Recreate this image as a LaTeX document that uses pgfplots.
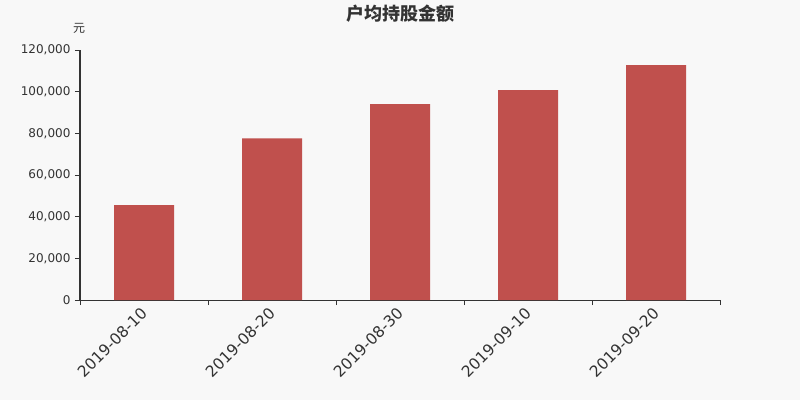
\documentclass[border=0pt]{standalone}
\usepackage{pgfplots}
\pgfplotsset{compat=1.18}
\usepackage{fontspec}
\setmainfont{DejaVu Sans}
\newfontfamily\cjk{Noto Sans CJK SC}
\definecolor{bg}{HTML}{F8F8F8}
\definecolor{barred}{HTML}{C0504D}
\definecolor{txt}{HTML}{333333}

\begin{document}
\begin{tikzpicture}[x=1pt,y=1pt]
\fill[bg] (0,0) rectangle (800,400);
\node[txt, font=\cjk\bfseries\fontsize{18}{20}\selectfont] at (400,386) {户均持股金额};
\node[txt, font=\cjk\fontsize{12}{14}\selectfont] at (79,372) {元};
\begin{axis}[
    at={(80pt,100pt)}, anchor=south west,
    scale only axis,
    width=640pt, height=250pt,
    xmin=-0.5, xmax=4.5,
    ymin=0, ymax=120000,
    axis lines=left,
    axis line style={-, txt, line width=1pt},
    tick align=outside,
    xtick={0,1,2,3,4},
    xticklabels={2019-08-10,2019-08-20,2019-08-30,2019-09-10,2019-09-20},
    major x tick style={draw=none},
    minor xtick={-0.5,0.5,1.5,2.5,3.5,4.5},
    minor x tick style={txt, line width=0.8pt},
    minor tick length=5pt,
    ytick={0,20000,40000,60000,80000,100000,120000},
    major y tick style={txt, line width=0.8pt},
    major tick length=5pt,
    scaled y ticks=false,
    /pgf/number format/fixed,
    /pgf/number format/1000 sep={,},
    /pgf/number format/assume math mode=true,
    yticklabel style={txt, font=\fontsize{12}{14}\selectfont, xshift=-1pt},
    xticklabel style={txt, font=\fontsize{15.5}{17}\selectfont, rotate=45, anchor=east, yshift=-4pt},
    ybar, bar width=60pt, bar shift=0pt,
]
\addplot[fill=barred, draw=none] coordinates {
(0,45600) (1,77600) (2,94080) (3,100800) (4,112800)
};
\end{axis}
\end{tikzpicture}
\end{document}
